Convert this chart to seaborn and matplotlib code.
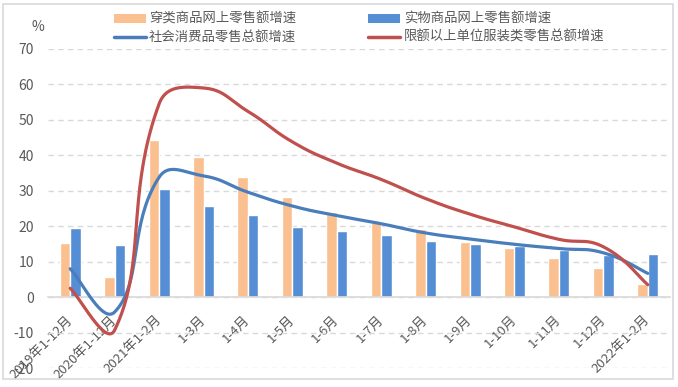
import numpy as np
import pandas as pd
import matplotlib
matplotlib.use("Agg")
import matplotlib.pyplot as plt
import seaborn as sns
from matplotlib.patches import Patch, Rectangle
from matplotlib.lines import Line2D

categories = ['2019年1-12月', '2020年1-12月', '2021年1-2月', '1-3月', '1-4月', '1-5月',
              '1-6月', '1-7月', '1-8月', '1-9月', '1-10月', '1-11月', '1-12月', '2022年1-2月']
clothing_online = [15.2, 5.6, 44.3, 39.5, 33.8, 28.2, 24.0, 21.4, 19.2, 15.6, 13.9, 11.1, 8.3, 3.7]
physical_online = [19.5, 14.7, 30.5, 25.7, 23.1, 19.8, 18.6, 17.5, 15.8, 15.0, 14.4, 13.2, 12.0, 12.2]
total_retail = [8.0, -4.2, 33.8, 34.2, 29.6, 25.7, 23.0, 20.7, 18.1, 16.4, 14.9, 13.7, 12.5, 6.7]
clothing_retail = [2.5, -9.3, 54.5, 59.0, 52.4, 43.8, 37.8, 33.2, 27.8, 23.4, 19.8, 16.3, 14.2, 3.5]

names = ['穿类商品网上零售额增速', '实物商品网上零售额增速',
         '社会消费品零售总额增速', '限额以上单位服装类零售总额增速']
c_orange = '#FAC090'
c_blue_bar = '#558ED5'
c_blue_line = '#4A7EBB'
c_red = '#C0504D'
grid_c = '#D9D9D9'
txt_c = '#595959'

sns.set_theme(style='white')
plt.rcParams['font.family'] = ['Noto Sans CJK SC', 'DejaVu Sans']
plt.rcParams['axes.unicode_minus'] = False

fig = plt.figure(figsize=(6.78, 3.87), dpi=100)
ax = fig.add_axes([48 / 678, 1 - 368 / 387, (670 - 48) / 678, (368 - 49) / 387])

df = pd.DataFrame({
    'cat': categories * 2,
    'val': clothing_online + physical_online,
    'series': [names[0]] * len(categories) + [names[1]] * len(categories),
})
sns.barplot(data=df, x='cat', y='val', hue='series', order=categories,
            hue_order=names[:2], palette=[c_orange, c_blue_bar], width=0.47,
            saturation=1, ax=ax, legend=False, errorbar=None)

ax.set_ylim(-20, 70)
ax.set_xlim(-0.5, len(categories) - 0.5)

# Excel-style smoothed line: Bezier segments whose control points are
# computed in screen space (chord-length weighted), then mapped back to data.
X_PX = (670 - 48) / len(categories)   # pixels per category
Y_PX = (368 - 49) / 90.0               # pixels per unit


def smooth(y, n=40, f=0.46):
    y = np.asarray(y, dtype=float)
    P = np.column_stack([np.arange(len(y)) * X_PX, y * Y_PX])
    m = len(P)
    d = np.linalg.norm(np.diff(P, axis=0), axis=1)
    xs, ys = [], []
    for i in range(m - 1):
        p1, p2 = P[i], P[i + 1]
        if i == 0:
            c1 = p1 + (p2 - p1) * f * 0.5
        else:
            T = P[i + 1] - P[i - 1]
            c1 = p1 + T * f * d[i] / (d[i - 1] + d[i])
        if i + 2 >= m:
            c2 = p2 - (p2 - p1) * f * 0.5
        else:
            T = P[i + 2] - P[i]
            c2 = p2 - T * f * d[i] / (d[i] + d[i + 1])
        t = np.linspace(0, 1, n, endpoint=(i == m - 2))[:, None]
        b = ((1 - t) ** 3 * p1 + 3 * (1 - t) ** 2 * t * c1
             + 3 * (1 - t) * t ** 2 * c2 + t ** 3 * p2)
        xs.append(b[:, 0] / X_PX)
        ys.append(b[:, 1] / Y_PX)
    return np.concatenate(xs), np.concatenate(ys)


for vals, col in [(total_retail, c_blue_line), (clothing_retail, c_red)]:
    sx, sy = smooth(vals)
    ax.plot(sx, sy, color=col, lw=2.3, solid_capstyle='round', zorder=5)

ax.set_yticks(range(-20, 71, 10))
ax.yaxis.grid(True, color=grid_c, linestyle=(0, (4, 3)), lw=1)
ax.set_axisbelow(True)
for s in ['top', 'right', 'left']:
    ax.spines[s].set_visible(False)
ax.spines['bottom'].set_position(('data', 0))
ax.spines['bottom'].set_color(grid_c)
ax.spines['bottom'].set_linewidth(1.2)
ax.set_xlabel('')
ax.set_ylabel('')
ax.tick_params(axis='y', length=0, labelsize=10, labelcolor=txt_c, pad=10)
ax.tick_params(axis='x', length=0, labelsize=9.5, labelcolor=txt_c, pad=15)
for lab in ax.get_xticklabels():
    lab.set_rotation(45)
    lab.set_ha('right')
    lab.set_va('center')
    lab.set_rotation_mode('anchor')
ax.set_facecolor('white')

fig.text(38 / 678, 1 - 27 / 387, '%', fontsize=10, color=txt_c, ha='center', va='center')

handles = [
    Patch(facecolor=c_orange, edgecolor='none'),
    Line2D([0], [0], color=c_blue_line, lw=2.5),
    Patch(facecolor=c_blue_bar, edgecolor='none'),
    Line2D([0], [0], color=c_red, lw=2.5),
]
labels = [names[0], names[2], names[1], names[3]]
fig.legend(handles, labels, ncol=2, loc='center', bbox_to_anchor=(359 / 678, 1 - 28 / 387),
           frameon=False, fontsize=9.6, labelcolor=txt_c, handlelength=2.4,
           handleheight=0.6, handletextpad=0.25, columnspacing=5.4, labelspacing=0.3)

fig.patches.append(Rectangle((3 / 678, 8 / 387), 670 / 678, 375 / 387,
                             transform=fig.transFigure, fill=False,
                             edgecolor=grid_c, lw=1.2))

fig.savefig('out.png', dpi=100, facecolor='white')
